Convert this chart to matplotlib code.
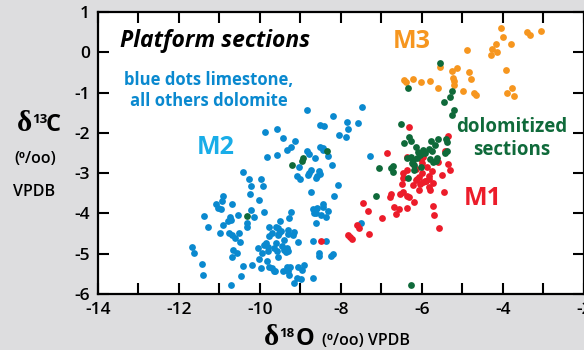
import matplotlib
matplotlib.use("Agg")
import matplotlib.pyplot as plt
from matplotlib.ticker import MultipleLocator

plt.rcParams['font.family'] = ['Open Sans', 'DejaVu Sans']
plt.rcParams['axes.unicode_minus'] = False

# d18O / d13C pairs per group
limestone_d18o = [-7.48, -8.84, -8.20, -8.52, -8.42, -7.85, -7.58, -7.83, -9.88, -9.58,
                  -8.05, -7.88, -9.43, -9.14, -9.23, -9.33, -8.52, -8.44, -8.44, -8.84,
                  -8.79, -8.32, -9.83, -9.58, -8.64, -7.28, -9.04, -10.42, -8.74, -8.79,
                  -8.81, -8.54, -8.52, -8.59, -8.62, -8.22, -9.09, -9.01, -8.07, -8.74,
                  -8.17, -8.44, -10.27, -9.98, -10.22, -9.93, -10.25, -10.91, -10.94, -10.02,
                  -11.09, -10.69, -11.04, -10.96, -11.38, -11.28, -10.74, -10.72, -10.79, -10.91,
                  -10.54, -10.22, -10.15, -10.32, -10.32, -9.90, -10.99, -10.77, -10.69, -10.52,
                  -10.62, -10.49, -9.78, -9.60, -9.70, -9.78, -9.56, -11.68, -11.63, -10.67,
                  -10.57, -10.69, -10.05, -9.90, -9.85, -9.80, -9.80, -9.95, -9.65, -9.58,
                  -10.02, -9.83, -10.20, -10.42, -9.98, -9.78, -9.70, -9.65, -11.43, -11.41,
                  -10.47, -10.72, -9.23, -9.28, -9.51, -9.56, -9.48, -9.53, -9.31, -9.31,
                  -9.16, -9.19, -9.06, -9.60, -9.46, -9.33, -9.36, -9.41, -9.31, -9.56,
                  -9.63, -9.33, -9.26, -9.31, -9.43, -9.06, -8.96, -8.91, -9.28, -9.09,
                  -8.99, -9.16, -8.69, -8.69, -8.59, -8.67, -8.62, -8.44, -8.32, -8.37,
                  -8.49, -8.62, -8.69, -8.37, -8.54, -8.54, -8.25, -8.20, -7.51, -9.41]
limestone_d13c = [-1.36, -1.43, -1.58, -1.80, -1.83, -1.73, -1.75, -1.90, -1.98, -1.90,
                  -2.05, -2.10, -2.13, -2.20, -2.35, -2.42, -2.35, -2.37, -2.42, -2.45,
                  -2.52, -2.57, -2.60, -2.55, -2.62, -2.57, -2.85, -2.97, -2.92, -3.00,
                  -3.04, -2.95, -3.02, -3.07, -3.12, -2.80, -3.07, -3.14, -3.29, -3.47,
                  -3.57, -3.76, -3.14, -3.14, -3.32, -3.32, -3.52, -3.57, -3.69, -3.67,
                  -3.76, -3.76, -3.86, -3.89, -4.06, -4.33, -4.09, -4.16, -4.19, -4.29,
                  -4.04, -3.91, -4.09, -4.24, -4.33, -3.96, -4.48, -4.48, -4.53, -4.48,
                  -4.61, -4.71, -4.33, -4.33, -4.48, -4.56, -4.53, -4.83, -4.98, -4.91,
                  -4.98, -5.08, -4.86, -4.78, -4.73, -4.83, -4.93, -4.98, -4.86, -4.93,
                  -5.13, -5.18, -5.28, -5.30, -5.35, -5.33, -5.35, -5.43, -5.25, -5.53,
                  -5.55, -5.77, -3.96, -4.11, -4.19, -4.36, -4.43, -4.48, -4.41, -4.51,
                  -4.46, -4.53, -4.71, -4.73, -4.81, -4.86, -4.96, -4.91, -4.93, -5.08,
                  -5.43, -5.33, -5.33, -5.43, -5.43, -5.33, -5.40, -5.28, -5.53, -5.60,
                  -5.63, -5.72, -5.60, -3.89, -3.86, -3.99, -3.99, -3.84, -3.94, -4.09,
                  -4.04, -4.24, -4.68, -4.68, -4.98, -5.05, -5.05, -5.00, -4.24, -4.66]

m1_d18o = [-6.32, -5.36, -6.86, -5.43, -5.98, -5.60, -6.37, -6.47, -6.15, -5.88,
           -5.75, -5.51, -5.31, -6.00, -6.07, -6.15, -5.90, -5.83, -5.73, -6.47,
           -6.49, -6.22, -6.05, -5.83, -5.80, -6.07, -6.47, -6.54, -6.77, -6.79,
           -6.37, -6.32, -6.20, -5.46, -7.46, -7.33, -6.69, -6.57, -6.37, -6.64,
           -5.73, -5.70, -6.99, -7.60, -7.56, -5.58, -7.83, -7.78, -7.73, -7.31,
           -8.49, -5.98, -5.93, -6.12, -5.83, -6.37, -6.02, -6.22, -5.36, -6.00]
m1_d13c = [-1.85, -2.08, -2.50, -2.45, -2.60, -2.72, -2.92, -3.00, -2.90, -2.85,
           -2.95, -3.04, -2.92, -3.00, -3.09, -3.17, -3.19, -3.14, -3.24, -3.12,
           -3.27, -3.29, -3.27, -3.34, -3.42, -3.42, -3.47, -3.52, -3.52, -3.59,
           -3.57, -3.59, -3.71, -3.47, -3.74, -3.94, -3.84, -3.89, -3.86, -4.01,
           -3.81, -4.04, -4.11, -4.29, -4.36, -4.36, -4.53, -4.58, -4.63, -4.51,
           -4.68, -3.22, -3.19, -3.14, -3.07, -2.60, -2.65, -2.77, -2.77, -2.75]

dolo_d18o = [-5.56, -6.35, -5.26, -5.31, -5.46, -5.21, -5.26, -6.52, -6.32, -6.27,
             -6.44, -6.15, -5.78, -5.60, -5.41, -5.38, -5.68, -5.83, -5.75, -5.98,
             -6.00, -5.93, -6.10, -6.05, -6.12, -5.43, -5.38, -6.37, -6.27, -6.22,
             -5.80, -5.65, -5.73, -5.63, -6.20, -6.25, -6.72, -6.77, -6.72, -7.06,
             -6.02, -6.20, -6.35, -7.14, -6.27, -8.35, -8.94, -8.96, -9.21, -10.32]
dolo_d13c = [-0.27, -0.89, -0.96, -1.11, -1.23, -1.43, -1.56, -1.78, -2.10, -2.20,
             -2.25, -2.35, -2.20, -2.15, -2.15, -2.23, -2.30, -2.40, -2.45, -2.42,
             -2.50, -2.50, -2.47, -2.55, -2.62, -2.50, -2.45, -2.62, -2.60, -2.67,
             -2.65, -2.70, -2.72, -2.62, -2.80, -2.75, -2.82, -2.87, -2.97, -2.87,
             -2.85, -2.92, -3.12, -3.57, -5.77, -2.45, -2.62, -2.70, -2.80, -4.06]

m3_d18o = [-4.05, -4.00, -3.41, -3.33, -3.06, -4.17, -3.80, -4.27, -4.15, -4.30,
           -4.89, -3.93, -5.56, -5.26, -5.14, -4.84, -4.79, -5.23, -5.21, -5.21,
           -6.44, -6.40, -6.22, -6.02, -5.80, -5.60, -4.99, -4.72, -4.67, -3.78,
           -3.90, -3.73]
m3_d13c = [0.60, 0.38, 0.50, 0.43, 0.53, 0.21, 0.21, 0.08, 0.01, -0.07,
           0.06, -0.44, -0.36, -0.46, -0.39, -0.49, -0.66, -0.64, -0.71, -0.81,
           -0.69, -0.74, -0.66, -0.74, -0.71, -0.89, -0.96, -1.01, -1.06, -0.89,
           -1.01, -1.08]

x_ticks = [-14, -12, -10, -8, -6, -4, -2]
y_ticks = [1, 0, -1, -2, -3, -4, -5, -6]

BLUE = '#0a89cf'
RED = '#ec1c2a'
GREEN = '#0f6a3a'
ORANGE = '#f6961f'

fig = plt.figure(figsize=(5.84, 3.5), dpi=100, facecolor='#dddddf')
ax = fig.add_axes([98 / 584, 56 / 350, 486 / 584, 282 / 350])
ax.set_facecolor('white')

dot = dict(s=24, linewidths=0, zorder=3)
ax.scatter(m3_d18o, m3_d13c, color=ORANGE, **dot)
ax.scatter(limestone_d18o, limestone_d13c, color=BLUE, **dot)
ax.scatter(m1_d18o, m1_d13c, color=RED, **dot)
ax.scatter(dolo_d18o, dolo_d13c, color=GREEN, **dot)

ax.set_xlim(-14, -2)
ax.set_ylim(-6, 1)
ax.xaxis.set_minor_locator(MultipleLocator(1))
ax.set_xticks(x_ticks)
ax.set_yticks(y_ticks)
ax.set_xticklabels([str(v) for v in x_ticks])
ax.set_yticklabels([str(v) for v in y_ticks])
for s in ax.spines.values():
    s.set_linewidth(1.6)
ax.tick_params(which='both', direction='in', length=8, width=1.5,
               top=True, right=True, labelsize=12.5, pad=6)
for lab in ax.get_xticklabels() + ax.get_yticklabels():
    lab.set_fontweight('semibold')

# in-plot labels
ax.text(-13.46, 0.28, 'Platform sections', fontsize=16.5, fontweight='bold',
        style='italic', ha='left', va='center')
ax.text(-11.26, -0.94, 'blue dots limestone,\nall others dolomite', color=BLUE,
        fontsize=12, fontweight='bold', ha='center', va='center', linespacing=1.2)
ax.text(-11.09, -2.37, 'M2', color='#19ade8', fontsize=18, fontweight='bold',
        ha='center', va='center')
ax.text(-6.25, 0.26, 'M3', color=ORANGE, fontsize=18, fontweight='bold',
        ha='center', va='center')
ax.text(-3.78, -2.15, 'dolomitized\nsections', color=GREEN, fontsize=13.5,
        fontweight='bold', ha='center', va='center', linespacing=1.2)
ax.text(-4.49, -3.64, 'M1', color=RED, fontsize=18, fontweight='bold',
        ha='center', va='center')

# y axis title
serif = ['Liberation Serif', 'DejaVu Serif']
fig.text(17 / 584, 1 - 131 / 350, 'δ', family=serif, fontsize=21, fontweight='bold',
         ha='left', va='baseline')
fig.text(32 / 584, 1 - 123 / 350, '13', fontsize=9.5, fontweight='bold',
         ha='left', va='baseline')
fig.text(46 / 584, 1 - 131 / 350, 'C', fontsize=17, fontweight='bold',
         ha='left', va='baseline')
fig.text(35 / 584, 1 - 159 / 350, '(\u2070/oo)', fontsize=11.5, fontweight='semibold',
         ha='center', va='center')
fig.text(34 / 584, 1 - 192 / 350, 'VPDB', fontsize=11.5, fontweight='semibold',
         ha='center', va='center')

# x axis title
fig.text(264 / 584, 1 - 345 / 350, 'δ', family=serif, fontsize=21, fontweight='bold',
         ha='left', va='baseline')
fig.text(279 / 584, 1 - 337 / 350, '18', fontsize=9.5, fontweight='bold',
         ha='left', va='baseline')
fig.text(296 / 584, 1 - 345 / 350, 'O', fontsize=17, fontweight='bold',
         ha='left', va='baseline')
fig.text(322 / 584, 1 - 345 / 350, '(\u2070/oo) VPDB', fontsize=11.5,
         fontweight='semibold', ha='left', va='baseline')

fig.savefig('out.png', dpi=100, facecolor=fig.get_facecolor())
